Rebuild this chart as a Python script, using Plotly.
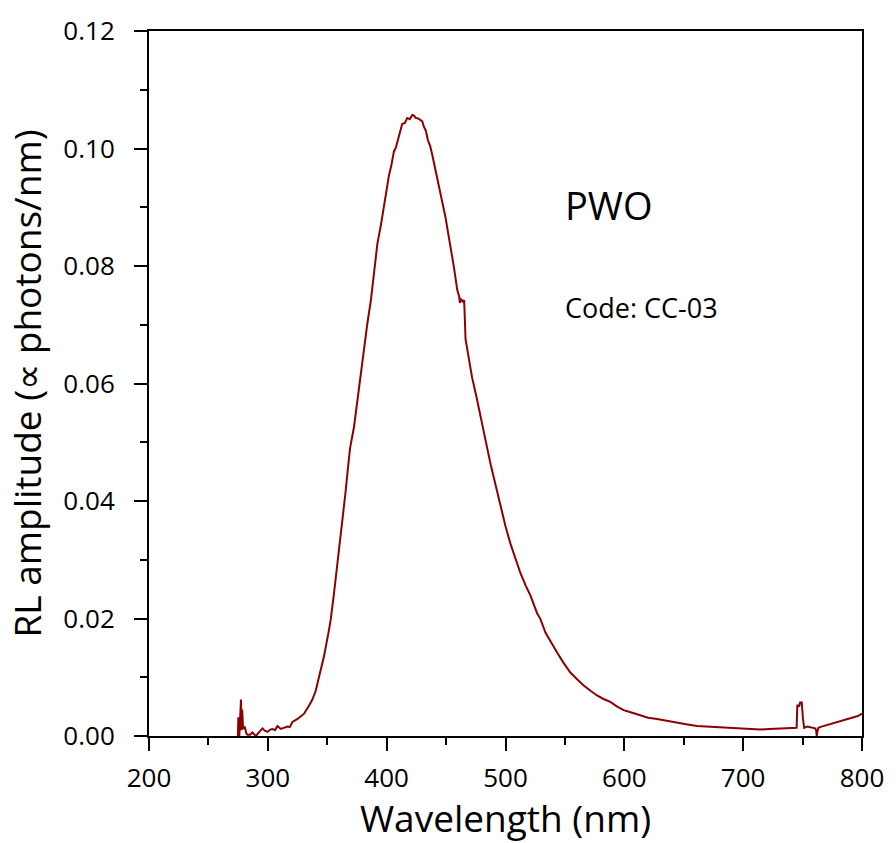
import plotly.graph_objects as go

# Wavelength (nm) and RL amplitude
wavelength = [
    274.8, 275.2, 275.6, 276.0, 277.4, 277.9, 278.4, 279.2, 280.5, 282.0, 283.0, 285.0, 287.0, 290.0,
    292.5, 295.5, 297.5, 299.7, 302.0, 303.9, 306.0, 308.1, 310.9, 313.5, 316.5, 318.5, 320.7,
    325.0, 327.7, 330.5, 334.7, 337.5, 340.3, 343.1, 345.8, 347.3, 351.5, 352.9, 355.7,
    358.5, 361.3, 363.5, 365.5, 367.5, 369.2, 372.5, 375.4, 377.5, 379.6, 382.0, 383.8,
    386.6, 389.5, 392.2, 395.0, 397.8, 400.0, 402.0, 404.0, 406.1, 407.8, 409.5, 411.3,
    413.1, 415.2, 417.3, 419.5, 421.6, 423.0, 424.4, 426.5, 428.6, 430.0, 431.3, 433.0,
    434.7, 436.5, 438.4, 440.5, 442.6, 445.4, 447.5, 449.6, 452.3, 454.3, 456.6, 459.4,
    461.0, 461.6, 462.7, 464.4, 465.2, 466.4, 469.0, 471.9, 475.5, 479.0, 482.0, 484.6,
    487.5, 490.2, 493.0, 495.8, 500.0, 504.2, 508.5, 512.6, 517.0, 521.0, 526.6, 529.4,
    533.6, 538.0, 543.4, 549.0, 554.6, 560.0, 565.8, 571.5, 577.0, 582.5, 588.2, 594.0,
    599.4, 606.0, 613.4, 620.0, 627.5, 635.0, 644.3, 652.0, 661.1, 670.0, 680.7, 689.0,
    697.5, 706.0, 714.3, 722.0, 731.1, 738.0, 743.7, 745.0, 745.6, 747.1, 747.9, 749.3,
    750.3, 751.3, 754.0, 757.6, 760.5, 761.4, 761.9, 762.5, 763.3, 766.0, 769.5, 773.1,
    776.5, 780.5, 784.3, 788.5, 792.7, 796.5, 800.0,
]
amplitude = [
    0.0000, 0.0032, 0.0000, 0.0000, 0.0062, 0.0010, 0.0045, 0.0012, 0.0016, 0.0004, 0.0002, 0.0002, 0.0006, 0.0000,
    0.0006, 0.0013, 0.0009, 0.0007, 0.0011, 0.0012, 0.0010, 0.0017, 0.0012, 0.0014, 0.0016, 0.0015, 0.0024,
    0.0029, 0.0033, 0.0038, 0.0052, 0.0062, 0.0077, 0.0103, 0.0125, 0.0136, 0.0181, 0.0198, 0.0243,
    0.0290, 0.0338, 0.0380, 0.0417, 0.0458, 0.0490, 0.0526, 0.0574, 0.0605, 0.0641, 0.0675, 0.0703,
    0.0740, 0.0790, 0.0838, 0.0868, 0.0905, 0.0930, 0.0955, 0.0972, 0.0995, 0.1002, 0.1014, 0.1030,
    0.1042, 0.1043, 0.1052, 0.1050, 0.1057, 0.1056, 0.1052, 0.1051, 0.1048, 0.1046, 0.1037, 0.1030,
    0.1014, 0.1005, 0.0989, 0.0970, 0.0950, 0.0922, 0.0905, 0.0882, 0.0849, 0.0826, 0.0798, 0.0759,
    0.0748, 0.0737, 0.0743, 0.0739, 0.0742, 0.0675, 0.0645, 0.0610, 0.0578, 0.0546, 0.0518, 0.0490,
    0.0462, 0.0439, 0.0414, 0.0389, 0.0357, 0.0327, 0.0301, 0.0277, 0.0256, 0.0239, 0.0209, 0.0199,
    0.0176, 0.0160, 0.0142, 0.0124, 0.0108, 0.0097, 0.0086, 0.0077, 0.0069, 0.0063, 0.0058, 0.0050,
    0.0044, 0.0040, 0.0035, 0.0031, 0.0029, 0.0026, 0.0022, 0.0020, 0.0017, 0.0016, 0.0014, 0.0014,
    0.0013, 0.0012, 0.0011, 0.0012, 0.0013, 0.0013, 0.0014, 0.0014, 0.0053, 0.0050, 0.0057, 0.0057,
    0.0030, 0.0014, 0.0016, 0.0015, 0.0013, 0.0010, 0.0000, 0.0008, 0.0014, 0.0016, 0.0018, 0.0020,
    0.0022, 0.0024, 0.0027, 0.0029, 0.0032, 0.0034, 0.0038,
]

x_ticks = [200, 300, 400, 500, 600, 700, 800]
y_ticks = [0.00, 0.02, 0.04, 0.06, 0.08, 0.10, 0.12]

FONT = "Century Gothic, Open Sans, sans-serif"

fig = go.Figure()
fig.add_trace(go.Scatter(
    x=wavelength, y=amplitude, mode="lines",
    line=dict(color="#8b0000", width=2), showlegend=False,
))

axis_common = dict(
    showline=True, linecolor="black", linewidth=2, mirror=True,
    ticks="outside", ticklen=13, tickwidth=2, tickcolor="black",
    showgrid=False, zeroline=False,
    tickfont=dict(family=FONT, size=26, color="black"),
)

fig.update_xaxes(
    range=[200, 800], tickvals=x_ticks, ticktext=[str(v) for v in x_ticks],
    minor=dict(ticks="outside", ticklen=7, tickwidth=2, tickcolor="black", dtick=50, tick0=200),
    title=dict(text="Wavelength (nm)", font=dict(family=FONT, size=37, color="black"), standoff=10),
    ticklabelstandoff=5,
    **axis_common,
)
fig.update_yaxes(
    range=[0, 0.12], tickvals=y_ticks, ticktext=[f"{v:.2f}" for v in y_ticks],
    minor=dict(ticks="outside", ticklen=7, tickwidth=2, tickcolor="black", dtick=0.01, tick0=0),
    title=dict(text="RL amplitude (\u221d photons/nm)", font=dict(family=FONT, size=37, color="black"), standoff=10),
    ticklabelstandoff=14,
    **axis_common,
)

fig.add_annotation(x=548, y=0.0904, xref="x", yref="y", text="PWO", showarrow=False,
                   xanchor="left", yanchor="middle", font=dict(family=FONT, size=38, color="black"))
fig.add_annotation(x=548, y=0.0729, xref="x", yref="y", text="Code: CC-03", showarrow=False,
                   xanchor="left", yanchor="middle", font=dict(family=FONT, size=27, color="black"))

fig.update_layout(
    width=896, height=843,
    margin=dict(l=149, r=34, t=28, b=102),
    plot_bgcolor="white", paper_bgcolor="white",
)

fig.write_html(
    "out.html",
    config={"displayModeBar": False},
    post_script="document.body.style.margin='0';document.body.style.overflow='hidden';",
)
